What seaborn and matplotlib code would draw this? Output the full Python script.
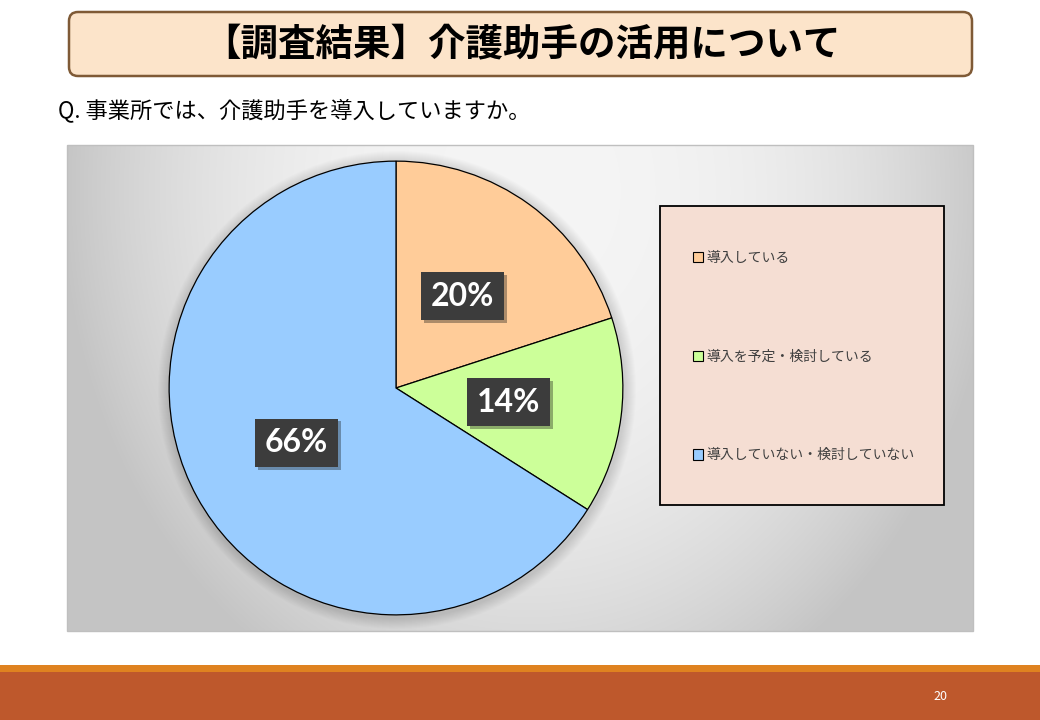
import numpy as np
import matplotlib
matplotlib.use("Agg")
import matplotlib.pyplot as plt
import seaborn as sns
from matplotlib.patches import Rectangle, FancyBboxPatch, Circle
from matplotlib import patheffects as pe

sns.set_theme(style="white")
plt.rcParams['font.family'] = ['Noto Sans CJK JP', 'DejaVu Sans']

# ---- data ----
title = "【調査結果】介護助手の活用について"
question = "Q. 事業所では、介護助手を導入していますか。"
categories = ["導入している", "導入を予定・検討している", "導入していない・検討していない"]
values = [20, 14, 66]
colors = ["#FFCC99", "#CCFF99", "#99CCFF"]
page_number = "20"

W, H = 1040, 720
fig = plt.figure(figsize=(W / 100, H / 100), dpi=100)
fig.patch.set_facecolor("white")

def fx(px):
    return px / W

def fy(py):
    return 1 - py / H

# ---- slide background axes ----
bg = fig.add_axes([0, 0, 1, 1])
bg.set_xlim(0, W)
bg.set_ylim(H, 0)
bg.axis("off")

# title box
bg.add_patch(FancyBboxPatch((69, 12), 903, 64, boxstyle="round,pad=0,rounding_size=9",
                            facecolor="#FCE4CA", edgecolor="#7F5A36", linewidth=1.8))
bg.text(522, 45, title, ha="center", va="center", fontsize=27, fontweight="bold", color="black")

# question
bg.text(58, 110, question, ha="left", va="center", fontsize=16, color="black")

# chart area gradient
x0, x1, y0, y1 = 67, 973, 145, 631
xs = np.linspace(x0, x1, 400)
ys = np.linspace(y0, y1, 220)
XX, YY = np.meshgrid(xs, ys)
d = np.sqrt(((XX - 530) / 470) ** 2 + ((YY - 190) / 560) ** 2)
val = 0.96 - 0.19 * np.clip(d, 0, 1) ** 2.5
img = np.dstack([val, val, val])
bg.imshow(img, extent=[x0, x1, y1, y0], aspect="auto", zorder=1, interpolation="bilinear")
bg.add_patch(Rectangle((x0, y0), x1 - x0, y1 - y0, fill=False, edgecolor="#BFBFBF", linewidth=1, zorder=2))

# soft shadow halo around pie
cx, cy, r = 396, 388, 228
for k in range(1, 12):
    bg.add_patch(Circle((cx + 1, cy + 2), r + k, facecolor="black", edgecolor="none", alpha=0.012, zorder=2))

# legend box
bg.add_patch(Rectangle((660, 206), 284, 299, facecolor="#F5DED3", edgecolor="black", linewidth=1.3, zorder=3))

# bottom bars
bg.add_patch(Rectangle((0, 665), W, 8, facecolor="#DF8220", edgecolor="none", zorder=3))
bg.add_patch(Rectangle((0, 672), W, 48, facecolor="#BE582C", edgecolor="none", zorder=3))
bg.text(940, 697, page_number, ha="center", va="center", fontsize=9, color="white", zorder=4)

# ---- pie axes ----
pax = fig.add_axes([fx(cx - r), fy(cy + r), 2 * r / W, 2 * r / H])
pax.set_facecolor("none")
wedges, texts, autotexts = pax.pie(
    values, colors=colors, startangle=90, counterclock=False,
    autopct=lambda p: f"{p:.0f}%", pctdistance=0.5,
    wedgeprops=dict(edgecolor="black", linewidth=0.9),
    textprops=dict(family=["Lato", "DejaVu Sans"], fontsize=23, fontweight="bold", color="white"),
)
for t in autotexts:
    t.set_bbox(dict(boxstyle="square,pad=0.3", facecolor="#3C3C3C", edgecolor="none"))
    t.get_bbox_patch().set_path_effects([pe.SimplePatchShadow(offset=(2, -2), alpha=0.35), pe.Normal()])
pax.set_xlim(-1.005, 1.005)
pax.set_ylim(-1.005, 1.005)
pax.set_aspect("equal")
pax.axis("off")

# legend
leg = fig.legend(wedges, categories, loc="upper left",
                 bbox_to_anchor=(fx(686), fy(244)), frameon=False,
                 fontsize=10, labelspacing=6.1, handlelength=0.75, handleheight=0.75,
                 handletextpad=0.25, borderpad=0, labelcolor="#404040")
for h in leg.legend_handles:
    h.set_edgecolor("black")
    h.set_linewidth(0.8)

fig.savefig("out.png", dpi=100)
